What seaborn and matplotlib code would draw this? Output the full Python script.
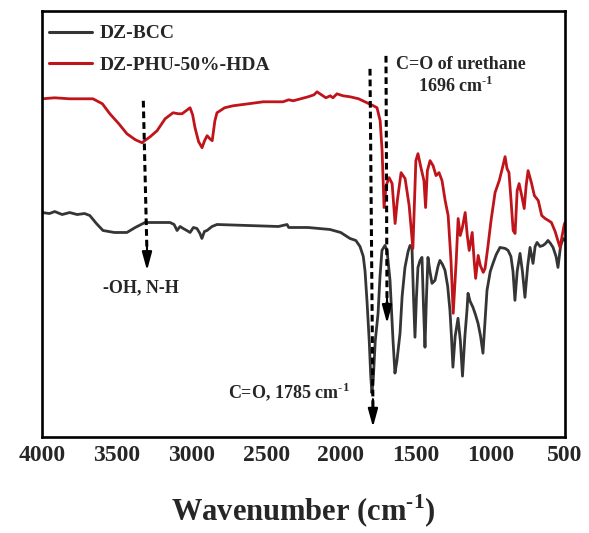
import matplotlib
matplotlib.use("Agg")
import matplotlib.pyplot as plt
import seaborn as sns
import pandas as pd

# ---- data ----
bcc_wn = [4000, 3950, 3915, 3865, 3815, 3765, 3715, 3680, 3636, 3592, 3516, 3432, 3376, 3311,
          3216, 3143, 3116, 3096, 3076, 3055, 3031, 3009, 2987, 2963, 2943, 2930, 2913, 2896,
          2862, 2829, 2618, 2418, 2360, 2349, 2220, 2073, 2001,
          1939, 1900, 1872, 1850, 1838, 1825, 1810, 1800, 1792, 1782, 1770, 1751, 1738, 1725,
          1705, 1691, 1671, 1651, 1638, 1625, 1604, 1590, 1571, 1550, 1537, 1524, 1514, 1504,
          1494, 1484, 1470, 1457, 1447, 1437, 1427, 1417, 1404, 1390, 1370, 1350, 1337, 1320,
          1303, 1285, 1270, 1260, 1250, 1235, 1216, 1200, 1186, 1170, 1156, 1149, 1135, 1116,
          1100, 1082, 1065, 1049, 1035, 1022, 1000, 982, 960,
          935, 900, 881, 862, 848, 835, 820, 801, 785, 768, 750, 734, 714, 700, 687, 667, 647,
          630, 614, 597, 580, 560, 547, 530, 513, 500]
bcc_t = [224, 223, 225, 222, 224, 222, 223, 221, 213, 206, 204, 204, 209, 214,
         214, 214, 212, 206, 210, 208, 206, 204, 209, 208, 203, 198, 205, 206,
         210, 212, 211, 210, 212, 209, 209, 207, 204,
         198, 196, 190, 180, 165, 135, 95, 60, 43, 60, 95, 123, 160, 186,
         191, 186, 156, 96, 63, 75, 103, 140, 169, 185, 191, 189, 140, 99,
         140, 169, 176, 179, 130, 89, 140, 179, 165, 153, 156, 170, 176, 172,
         166, 150, 126, 100, 69, 100, 118, 95, 60, 100, 126, 143, 135, 129,
         122, 113, 100, 83, 115, 146, 165, 173, 182,
         189, 188, 186, 180, 165, 136, 165, 183, 165, 139, 170, 189, 173, 190, 194, 190, 191,
         193, 196, 193, 189, 180, 169, 190, 198, 196]

phu_wn = [4000, 3915, 3815, 3659, 3596, 3546, 3486, 3432, 3376, 3331, 3276, 3230, 3176, 3123,
          3087, 3063, 3027, 3009, 2992, 2976, 2952, 2929, 2912, 2895, 2877, 2861, 2843, 2829,
          2778, 2721, 2619, 2519, 2387, 2349, 2319, 2269, 2219, 2180, 2159, 2140, 2100, 2071,
          2053, 2026, 2006, 1985, 1938, 1881, 1825, 1782, 1758, 1737, 1724, 1711, 1697, 1677,
          1657, 1637, 1622, 1597, 1570, 1543, 1518, 1498, 1484, 1464, 1444, 1433, 1421, 1403,
          1383, 1363, 1343, 1323, 1302, 1282, 1263, 1248, 1228, 1215, 1201, 1188, 1168, 1154,
          1141, 1121, 1108, 1098, 1081, 1067, 1047, 1035, 1015, 995, 968, 940, 915, 901, 888,
          875, 861, 847, 834, 820, 807, 787, 773, 760, 747, 725, 705, 679, 656, 633, 611, 591,
          566, 546, 533, 520, 505, 500]
phu_t = [338, 339, 338, 338, 333, 323, 313, 303, 297, 294, 300, 306, 318, 324,
         323, 323, 327, 329, 322, 309, 295, 289, 296, 301, 298, 296, 316, 324,
         329, 331, 333, 335, 335, 337, 336, 338, 340, 342, 345, 343, 339, 341,
         339, 343, 342, 341, 340, 338, 334, 331, 329, 316, 286, 229, 251, 259,
         253, 213, 236, 264, 258, 231, 188, 276, 283, 269, 256, 229, 266, 276,
         271, 261, 264, 256, 236, 221, 176, 123, 176, 218, 201, 208, 224, 201,
         186, 204, 176, 158, 181, 171, 164, 168, 191, 216, 244, 256, 271, 280, 268,
         264, 236, 206, 203, 246, 253, 239, 228, 251, 266, 254, 241, 236, 221, 218, 216, 214,
         205, 195, 189, 200, 212, 214]

samples = ["DZ-BCC", "DZ-PHU-50%-HDA"]
colors = ["#353535", "#c0141b"]
xticks = [4000, 3500, 3000, 2500, 2000, 1500, 1000, 500]

df = pd.concat([
    pd.DataFrame({"wn": bcc_wn, "T": bcc_t, "sample": samples[0]}),
    pd.DataFrame({"wn": phu_wn, "T": phu_t, "sample": samples[1]}),
], ignore_index=True)

sns.set_style("white")
plt.rcParams["font.family"] = ["Liberation Serif", "DejaVu Serif"]
plt.rcParams["font.weight"] = "bold"
plt.rcParams["mathtext.fontset"] = "custom"
plt.rcParams["mathtext.rm"] = "Liberation Serif:bold"
plt.rcParams["mathtext.bf"] = "Liberation Serif:bold"

fig = plt.figure(figsize=(5.89, 5.33), dpi=100)
ax = fig.add_axes([42 / 589, 1 - 437 / 533, (565 - 42) / 589, (437 - 11) / 533])

sns.lineplot(data=df, x="wn", y="T", hue="sample", hue_order=samples,
             palette=dict(zip(samples, colors)), estimator=None, sort=False,
             lw=2.0, ax=ax)

ax.set_xlim(4000, 500)
ax.set_ylim(-1, 426)
ax.set_xticks(xticks)
ax.set_xticklabels([str(t) for t in xticks], fontsize=17, fontweight="bold")
ax.set_xticks([3750, 3250, 2750, 2250, 1750, 1250, 750], minor=True)
ax.set_yticks([])
ax.set_ylabel("")
ax.set_xlabel(r"Wavenumber (cm$^{\text{-1}}$)", fontsize=22, fontweight="bold", labelpad=19)
ax.tick_params(axis="x", which="major", direction="in", length=5, width=1.8, pad=6)
ax.tick_params(axis="x", which="minor", direction="in", length=3, width=1.5)
for s in ax.spines.values():
    s.set_linewidth(1.9)
    s.set_color("black")

leg = ax.legend(loc="upper left", bbox_to_anchor=(0.0, 1 - 7 / 426), frameon=False,
                handlelength=2.2, handletextpad=0.4, labelspacing=0.72,
                borderaxespad=0.05, borderpad=0.3, prop={"weight": "bold", "size": 14})
for line in leg.get_lines():
    line.set_linewidth(2.2)

# dashed arrows
def dashed_arrow(x0, y0, x1, y1, head=28):
    ax.plot([x0, x1], [y0, y1 + head * 0.5], ls=(0, (2.2, 1.3)), color="black", lw=2.2)
    ax.annotate("", xy=(x1, y1), xytext=(x1 + (x0 - x1) * 0.02, y1 + head),
                arrowprops=dict(arrowstyle="-|>,head_length=1.1,head_width=0.3",
                                color="black", lw=1.5, shrinkA=0, shrinkB=0))

dashed_arrow(3322, 336, 3297, 166)
dashed_arrow(1805, 368, 1785, 9)
dashed_arrow(1698, 381, 1691, 113)

ax.text(3335, 149, "-OH, N-H", fontsize=13, fontweight="bold", ha="center", va="center")
ax.text(2345, 44, r"C=O, 1785 cm$^{\text{-1}}$", fontsize=13, fontweight="bold", ha="center", va="center")
ax.text(1200, 372, "C=O of urethane", fontsize=13, fontweight="bold", ha="center", va="center")
ax.text(1230, 351, r"1696 cm$^{\text{-1}}$", fontsize=13, fontweight="bold", ha="center", va="center")

fig.savefig("out.png", dpi=100)
